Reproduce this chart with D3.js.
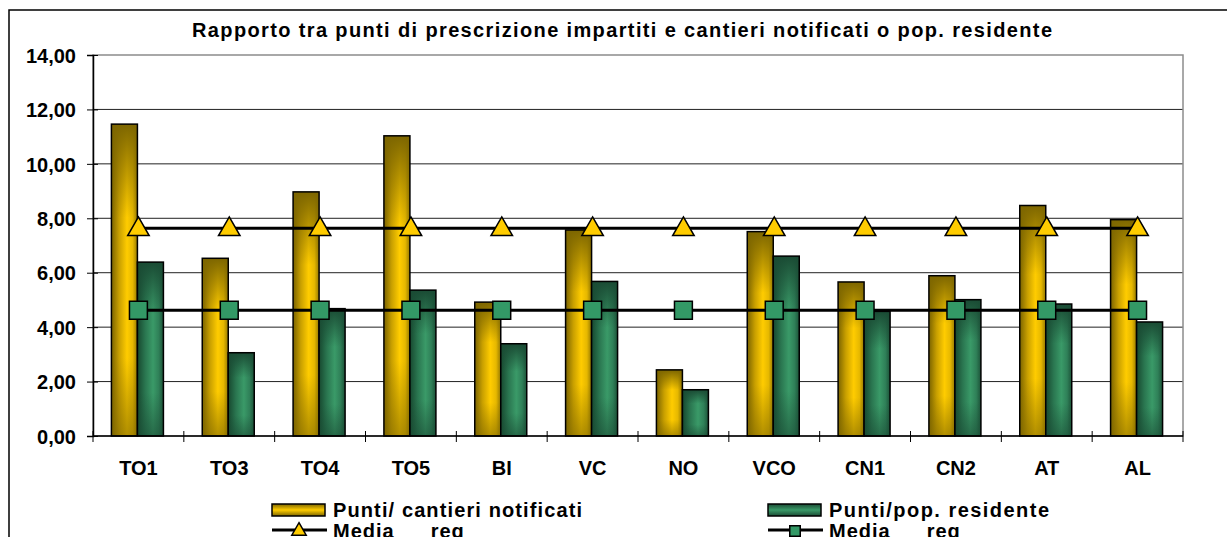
<!DOCTYPE html>
<html>
<head>
<meta charset="utf-8">
<title>Rapporto punti</title>
<script src="https://cdn.jsdelivr.net/npm/d3@7"></script>
<style>
  body { margin: 0; background: #fff; }
  text { font-family: "Liberation Sans", Arial, sans-serif; font-weight: bold; fill: #000; }
</style>
</head>
<body>
<svg id="graph" width="1227" height="537"></svg>
<script>
// dati
var categories = ["TO1", "TO3", "TO4", "TO5", "BI", "VC", "NO", "VCO", "CN1", "CN2", "AT", "AL"];
var puntiCantieri = [11.46, 6.53, 8.97, 11.03, 4.92, 7.57, 2.43, 7.51, 5.66, 5.89, 8.47, 7.95];
var puntiPop = [6.39, 3.06, 4.68, 5.36, 3.39, 5.68, 1.70, 6.61, 4.58, 5.01, 4.85, 4.19];
var mediaCantieri = [7.63, 7.63, 7.63, 7.63, 7.63, 7.63, 7.63, 7.63, 7.63, 7.63, 7.63, 7.63];
var mediaPop = [4.62, 4.62, 4.62, 4.62, 4.62, 4.62, 4.62, 4.62, 4.62, 4.62, 4.62, 4.62];
var yTicks = [0, 2, 4, 6, 8, 10, 12, 14];
var seriesNames = ["Punti/ cantieri notificati", "Punti/pop. residente"];
var title = "Rapporto tra punti di prescrizione impartiti e cantieri notificati o pop. residente";

var svg = d3.select("#graph");
var pLeft = 93, pRight = 1183, pTop = 55, pBottom = 436;

var x = d3.scaleBand().domain(categories).range([pLeft, pRight]).padding(0);
var inner = d3.scaleBand().domain([0, 1]).range([0, 52]);
var groupOffset = (x.bandwidth() - 52) / 2 - 1;
var y = d3.scaleLinear().domain([0, 14]).range([pBottom, pTop]);

// gradienti
var defs = svg.append("defs");
function hGrad(id, stops) {
  var g = defs.append("linearGradient").attr("id", id).attr("x1", 0).attr("x2", 1).attr("y1", 0).attr("y2", 0);
  stops.forEach(s => g.append("stop").attr("offset", s[0]).attr("stop-color", s[1]).attr("stop-opacity", s[2] == null ? 1 : s[2]));
}
function vGrad(id, stops) {
  var g = defs.append("linearGradient").attr("id", id).attr("x1", 0).attr("x2", 0).attr("y1", 0).attr("y2", 1);
  stops.forEach(s => g.append("stop").attr("offset", s[0]).attr("stop-color", s[1]).attr("stop-opacity", s[2] == null ? 1 : s[2]));
}
hGrad("gy", [[0, "#7a6300"], [0.3, "#c9a000"], [0.6, "#ffcc00"], [0.82, "#e6b800"], [1, "#957800"]]);
vGrad("gyv", [[0, "#7d6600", 1], [0.3, "#7d6600", 0], [0.75, "#7d6600", 0], [1, "#7d6600", 0.6]]);
hGrad("gg", [[0, "#17482f"], [0.3, "#2a7650"], [0.6, "#3a9a68"], [0.82, "#2f8058"], [1, "#1c5238"]]);
vGrad("ggv", [[0, "#1a4b34", 1], [0.3, "#1a4b34", 0], [0.75, "#1a4b34", 0], [1, "#1a4b34", 0.6]]);
vGrad("ly", [[0, "#7d6600"], [0.5, "#ffcc00"], [1, "#7d6600"]]);
vGrad("lg", [[0, "#1a4b34"], [0.5, "#3a9a68"], [1, "#1a4b34"]]);

// bordo esterno
svg.append("rect").attr("x", 9).attr("y", 10).attr("width", 1240).attr("height", 560)
  .attr("fill", "none").attr("stroke", "#000").attr("stroke-width", 1.5);

svg.append("text").attr("x", 192).attr("y", 37)
  .attr("textLength", 860).attr("lengthAdjust", "spacing")
  .style("font-size", "20px").text(title);

// griglia
svg.append("g").selectAll("line").data(yTicks.filter(d => d > 0 && d < 14)).enter().append("line")
  .attr("x1", pLeft).attr("x2", pRight).attr("y1", d => y(d)).attr("y2", d => y(d))
  .attr("stroke", "#222").attr("stroke-width", 1);
svg.append("rect").attr("x", pLeft).attr("y", pTop).attr("width", pRight - pLeft).attr("height", pBottom - pTop)
  .attr("fill", "none").attr("stroke", "#8c8c8c").attr("stroke-width", 1.5);

// barre
var series = [puntiCantieri, puntiPop];
var fills = [["url(#gy)", "url(#gyv)"], ["url(#gg)", "url(#ggv)"]];
series.forEach(function(vals, si) {
  var g = svg.append("g");
  var data = categories.map((c, i) => ({c: c, v: vals[i]}));
  var bx = d => x(d.c) + groupOffset + inner(si);
  g.selectAll("rect.base").data(data).enter().append("rect")
    .attr("x", bx).attr("y", d => y(d.v)).attr("width", inner.bandwidth()).attr("height", d => y(0) - y(d.v))
    .attr("fill", fills[si][0]);
  g.selectAll("rect.shade").data(data).enter().append("rect")
    .attr("x", bx).attr("y", d => y(d.v)).attr("width", inner.bandwidth()).attr("height", d => y(0) - y(d.v))
    .attr("fill", fills[si][1]).attr("stroke", "#000").attr("stroke-width", 1.5);
});

// assi
var yAxis = svg.append("g").attr("transform", "translate(" + pLeft + ",0)")
  .call(d3.axisLeft(y).tickValues(yTicks).tickSize(6).tickPadding(11)
    .tickFormat(d => d3.format(".2f")(d).replace(".", ",")));
yAxis.select(".domain").attr("stroke", "#000").attr("stroke-width", 1.5);
yAxis.selectAll(".tick line").attr("x1", 5).attr("stroke", "#000");
yAxis.selectAll("text").style("font-size", "20px").attr("dy", "0.36em");

var xAxis = svg.append("g").attr("transform", "translate(0," + pBottom + ")")
  .call(d3.axisBottom(x).tickSize(0).tickPadding(25));
xAxis.select(".domain").remove();
xAxis.selectAll("text").style("font-size", "20px");
svg.append("line").attr("x1", pLeft).attr("x2", pRight).attr("y1", pBottom).attr("y2", pBottom)
  .attr("stroke", "#000").attr("stroke-width", 1.5);
svg.append("g").selectAll("line").data(categories.map(c => x(c)).concat([pRight])).enter().append("line")
  .attr("x1", d => d).attr("x2", d => d).attr("y1", pBottom - 5).attr("y2", pBottom + 6)
  .attr("stroke", "#000");

// linee media
var line = d3.line().x(d => x(d.c) + x.bandwidth() / 2).y(d => y(d.v));
var tri = d3.symbol().type(d3.symbolTriangle).size(200);
var sq = d3.symbol().type(d3.symbolSquare).size(320);
[[mediaCantieri, tri, "#ffcc00"], [mediaPop, sq, "#339966"]].forEach(function(m) {
  var data = categories.map((c, i) => ({c: c, v: m[0][i]}));
  svg.append("path").datum(data).attr("d", line).attr("fill", "none").attr("stroke", "#000").attr("stroke-width", 3);
  svg.append("g").selectAll("path").data(data).enter().append("path")
    .attr("d", m[1])
    .attr("transform", d => "translate(" + (x(d.c) + x.bandwidth() / 2) + "," + (y(d.v) + (m[1] === tri ? 1 : 0)) + ")")
    .attr("fill", m[2]).attr("stroke", "#000").attr("stroke-width", 1.5);
});

// legenda
var legend = svg.append("g");
var lx = [272, 768];
var lw = [249, 220];
[0, 1].forEach(function(i) {
  legend.append("rect").attr("x", lx[i]).attr("y", 504).attr("width", 53).attr("height", 12)
    .attr("fill", i === 0 ? "url(#ly)" : "url(#lg)").attr("stroke", "#000").attr("stroke-width", 1.5);
  legend.append("text").attr("x", lx[i] + 61).attr("y", 517)
    .attr("textLength", lw[i]).attr("lengthAdjust", "spacing")
    .style("font-size", "20px").text(seriesNames[i]);
  legend.append("line").attr("x1", lx[i]).attr("x2", lx[i] + 55).attr("y1", 530).attr("y2", 530)
    .attr("stroke", "#000").attr("stroke-width", 3);
  legend.append("path").attr("d", i === 0 ? d3.symbol().type(d3.symbolTriangle).size(90)() : d3.symbol().type(d3.symbolSquare).size(110)())
    .attr("transform", "translate(" + (lx[i] + 27) + ",531)")
    .attr("fill", i === 0 ? "#ffcc00" : "#339966").attr("stroke", "#000").attr("stroke-width", 1.5);
  var t = legend.append("text").attr("x", lx[i] + 61).attr("y", 538).style("font-size", "20px")
    .attr("letter-spacing", "1px");
  t.append("tspan").text("Media");
  t.append("tspan").attr("dx", 36).text("reg");
});
</script>
</body>
</html>
